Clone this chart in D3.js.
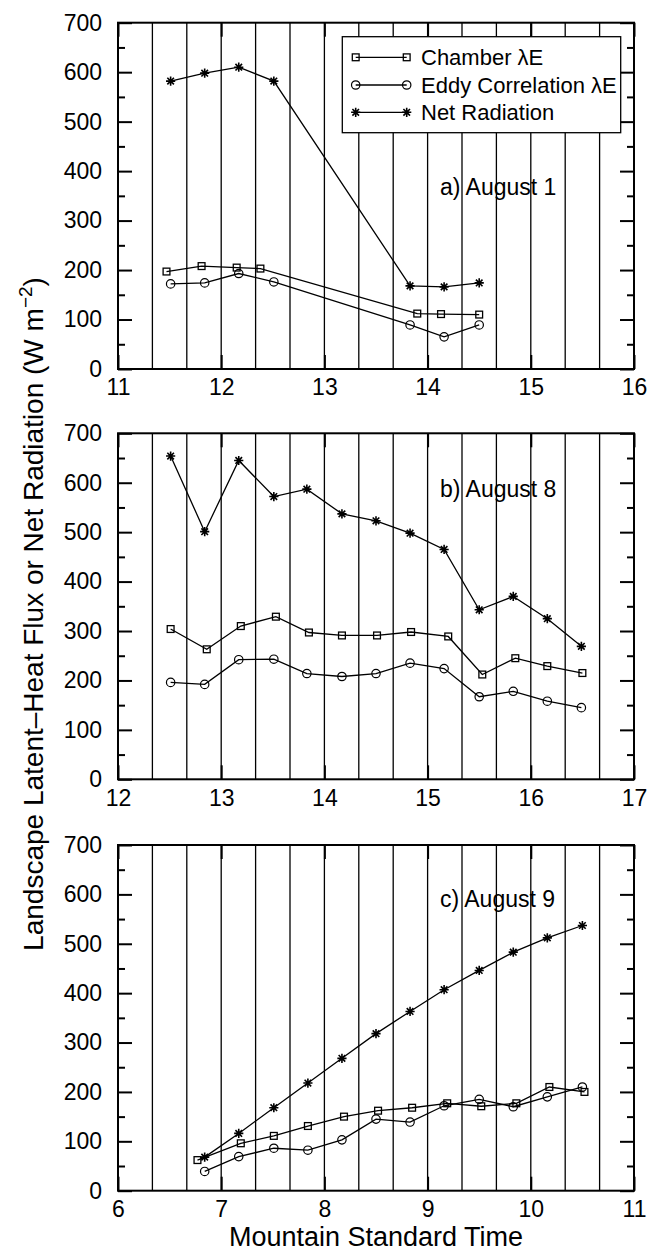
<!DOCTYPE html>
<html>
<head>
<meta charset="utf-8">
<script src="https://cdn.jsdelivr.net/npm/d3@7"></script>
<style>
  body { margin: 0; background: #fff; }
  svg { display: block; font-family: "Liberation Sans", Arial, Helvetica, sans-serif; }
</style>
</head>
<body>
<div id="chart"></div>
<script>
var width = 647;
var height = 1251;

// a) August 1
var netA_t = [11.51, 11.84, 12.17, 12.51, 13.83, 14.16, 14.50];
var netA = [582, 598, 610, 582, 168, 166, 174];
var chamberA_t = [11.47, 11.81, 12.15, 12.38, 13.90, 14.13, 14.50];
var chamberA = [197, 208, 205, 203, 112, 111, 110];
var eddyA_t = [11.51, 11.84, 12.17, 12.51, 13.83, 14.16, 14.50];
var eddyA = [172, 174, 193, 176, 89, 65, 89];

// b) August 8
var netB_t = [12.51, 12.84, 13.17, 13.51, 13.83, 14.17, 14.50, 14.83, 15.16, 15.50, 15.83, 16.16, 16.49];
var netB = [654, 501, 645, 572, 587, 537, 523, 498, 465, 343, 370, 325, 269];
var chamberB_t = [12.51, 12.86, 13.19, 13.53, 13.85, 14.17, 14.51, 14.84, 15.20, 15.53, 15.85, 16.16, 16.50];
var chamberB = [304, 263, 310, 329, 297, 291, 291, 298, 289, 212, 245, 229, 215];
var eddyB_t = [12.51, 12.84, 13.17, 13.51, 13.83, 14.17, 14.50, 14.83, 15.16, 15.50, 15.83, 16.16, 16.49];
var eddyB = [196, 192, 242, 243, 214, 208, 214, 235, 224, 167, 178, 158, 145];

// c) August 9
var netC_t = [6.84, 7.17, 7.51, 7.84, 8.17, 8.50, 8.83, 9.16, 9.50, 9.83, 10.16, 10.50];
var netC = [68, 116, 168, 218, 268, 318, 363, 407, 446, 483, 512, 537];
var chamberC_t = [6.77, 7.19, 7.51, 7.84, 8.19, 8.52, 8.85, 9.19, 9.52, 9.86, 10.18, 10.52];
var chamberC = [62, 96, 111, 131, 150, 162, 168, 177, 171, 177, 210, 200];
var eddyC_t = [6.84, 7.17, 7.51, 7.84, 8.17, 8.50, 8.83, 9.16, 9.50, 9.83, 10.16, 10.50];
var eddyC = [39, 69, 86, 82, 103, 145, 139, 172, 185, 170, 190, 210];

var xDomains = [[11, 16], [12, 17], [6, 11]];
var panelLabels = ["a) August 1", "b) August 8", "c) August 9"];
var yTicks = [0, 100, 200, 300, 400, 500, 600, 700];
var yMinor = [50, 150, 250, 350, 450, 550, 650];
var legendNames = ["Chamber \u03bbE", "Eddy Correlation \u03bbE", "Net Radiation"];

// layout
var left = 118, right = 634;
var tops = [22.7, 433.3, 845];
var bottoms = [369, 779.3, 1190.7];
var labelPos = [[14.12, 352], [15.12, 572], [9.12, 575]];

var svg = d3.select("#chart")
    .append("svg")
    .attr("width", width)
    .attr("height", height);

function drawMarker(g, kind, x, y) {
    if (kind === "square") {
        g.append("rect")
            .attr("x", x - 3.4).attr("y", y - 3.4)
            .attr("width", 6.8).attr("height", 6.8)
            .attr("fill", "none").attr("stroke", "#000").attr("stroke-width", 1.3);
    } else if (kind === "circle") {
        g.append("circle")
            .attr("cx", x).attr("cy", y).attr("r", 4.2)
            .attr("fill", "none").attr("stroke", "#000").attr("stroke-width", 1.2);
    } else {
        g.append("path")
            .attr("transform", "translate(" + x + "," + y + ")")
            .attr("d", "M-4.6,0H4.6M0,-4.6V4.6M-3.3,-3.3L3.3,3.3M-3.3,3.3L3.3,-3.3")
            .attr("fill", "none").attr("stroke", "#000").attr("stroke-width", 1.6);
    }
}

var allSeries = [
    [[chamberA_t, chamberA, "square"], [eddyA_t, eddyA, "circle"], [netA_t, netA, "star"]],
    [[chamberB_t, chamberB, "square"], [eddyB_t, eddyB, "circle"], [netB_t, netB, "star"]],
    [[chamberC_t, chamberC, "square"], [eddyC_t, eddyC, "circle"], [netC_t, netC, "star"]]
];

for (var p = 0; p < 3; p++) {
    var x = d3.scaleLinear().domain(xDomains[p]).range([left, right]);
    var y = d3.scaleLinear().domain([0, 700]).range([bottoms[p], tops[p]]);
    var g = svg.append("g");

    // vertical lines every 20 minutes
    var grid = [];
    for (var k = 1; k < 15; k++) grid.push(xDomains[p][0] + k / 3);
    g.selectAll("line.grid")
        .data(grid)
        .enter()
        .append("line")
        .attr("x1", function(d) { return x(d); })
        .attr("x2", function(d) { return x(d); })
        .attr("y1", tops[p])
        .attr("y2", bottoms[p])
        .attr("stroke", "#000")
        .attr("stroke-width", 1.3);

    // axes
    var ax = g.append("g").attr("transform", "translate(" + left + ",0)")
        .call(d3.axisLeft(y).tickValues(yTicks).tickSize(-14).tickPadding(16).tickFormat(d3.format("d")));
    g.append("g").attr("transform", "translate(" + left + ",0)")
        .call(d3.axisLeft(y).tickValues(yMinor).tickSize(-7).tickFormat(""));
    g.append("g").attr("transform", "translate(" + right + ",0)")
        .call(d3.axisRight(y).tickValues(yTicks).tickSize(-14).tickFormat(""));
    g.append("g").attr("transform", "translate(" + right + ",0)")
        .call(d3.axisRight(y).tickValues(yMinor).tickSize(-7).tickFormat(""));
    var bx = g.append("g").attr("transform", "translate(0," + bottoms[p] + ")")
        .call(d3.axisBottom(x).ticks(5).tickSize(-14).tickPadding(10).tickFormat(d3.format("d")));
    g.append("g").attr("transform", "translate(0," + tops[p] + ")")
        .call(d3.axisTop(x).ticks(5).tickSize(-14).tickFormat(""));

    g.selectAll(".domain").remove();
    g.selectAll(".tick line").attr("stroke", "#000").attr("stroke-width", 2);
    ax.selectAll("text").attr("font-size", 23).attr("fill", "#000")
        .attr("font-family", "Liberation Sans, Arial, sans-serif");
    bx.selectAll("text").attr("font-size", 23).attr("fill", "#000")
        .attr("font-family", "Liberation Sans, Arial, sans-serif");

    g.append("rect")
        .attr("x", left).attr("y", tops[p])
        .attr("width", right - left).attr("height", bottoms[p] - tops[p])
        .attr("fill", "none").attr("stroke", "#000").attr("stroke-width", 2);

    // series
    var line = d3.line()
        .x(function(d) { return x(d[0]); })
        .y(function(d) { return y(d[1]); });
    allSeries[p].forEach(function(s) {
        var pts = s[0].map(function(t, i) { return [t, s[1][i]]; });
        g.append("path")
            .datum(pts)
            .attr("d", line)
            .attr("fill", "none")
            .attr("stroke", "#000")
            .attr("stroke-width", 1.3);
        pts.forEach(function(d) {
            drawMarker(g, s[2], x(d[0]), y(d[1]));
        });
    });

    g.append("text")
        .attr("x", x(labelPos[p][0]))
        .attr("y", y(labelPos[p][1]))
        .attr("font-size", 23)
        .text(panelLabels[p]);
}

// legend (panel a)
var lg = svg.append("g");
lg.append("rect")
    .attr("x", 342.3).attr("y", 36.7)
    .attr("width", 278.4).attr("height", 96)
    .attr("fill", "#fff").attr("stroke", "#000").attr("stroke-width", 1.3);
var kinds = ["square", "circle", "star"];
var rowY = [57.3, 85, 112.3];
legendNames.forEach(function(name, i) {
    lg.append("line")
        .attr("x1", 355.7).attr("x2", 406.7)
        .attr("y1", rowY[i]).attr("y2", rowY[i])
        .attr("stroke", "#000").attr("stroke-width", 1.3);
    drawMarker(lg, kinds[i], 355.7, rowY[i]);
    drawMarker(lg, kinds[i], 406.7, rowY[i]);
    lg.append("text")
        .attr("x", 421).attr("y", rowY[i])
        .attr("dy", "0.36em")
        .attr("font-size", 22)
        .text(name);
});

// axis titles
var yt = svg.append("text")
    .attr("transform", "translate(43,614) rotate(-90)")
    .attr("text-anchor", "middle")
    .attr("font-size", 28);
yt.append("tspan").text("Landscape Latent\u2013Heat Flux or Net Radiation (W m");
yt.append("tspan").attr("dy", -11).attr("font-size", 19).text("\u22122");
yt.append("tspan").attr("dy", 11).text(")");

svg.append("text")
    .attr("x", (left + right) / 2)
    .attr("y", 1246)
    .attr("text-anchor", "middle")
    .attr("font-size", 27)
    .text("Mountain Standard Time");
</script>
</body>
</html>
